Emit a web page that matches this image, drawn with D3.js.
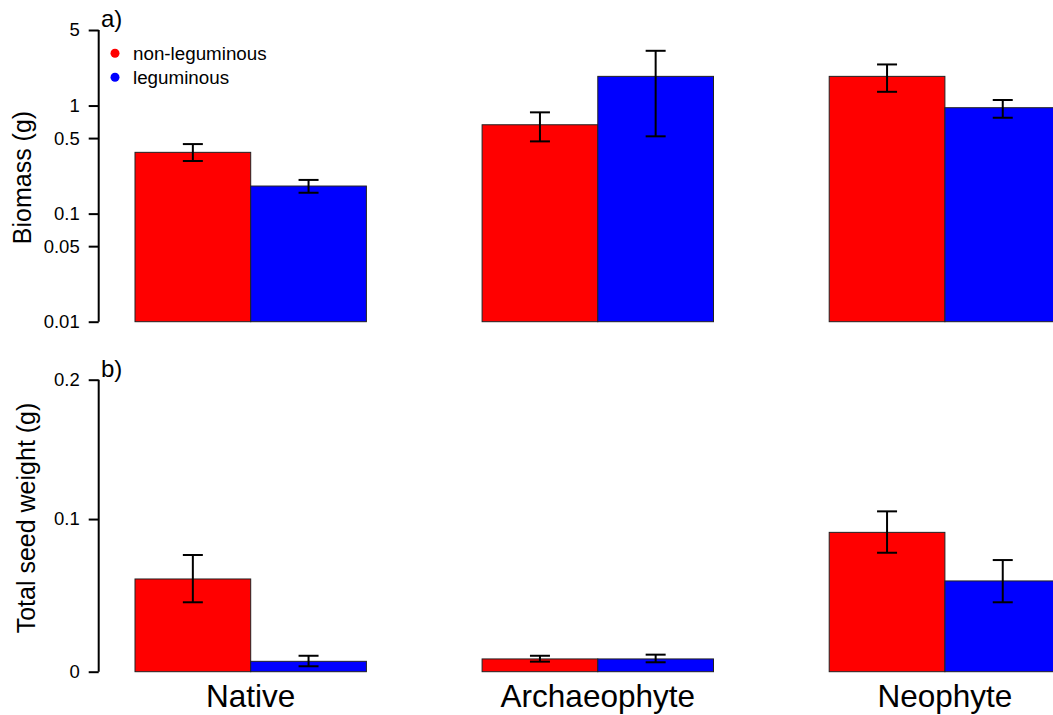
<!DOCTYPE html>
<html>
<head>
<meta charset="utf-8">
<script src="https://cdn.jsdelivr.net/npm/d3@7"></script>
<style>
  html, body { margin: 0; padding: 0; background: #fff; }
  svg { display: block; font-family: "Liberation Sans", Arial, sans-serif; }
</style>
</head>
<body>
<svg id="chart" width="1053" height="715"></svg>
<script>
// Origin groups and the two plant types
const categories = ["Native", "Archaeophyte", "Neophyte"];
const seriesNames = ["non-leguminous", "leguminous"];
const seriesColors = ["#ff0000", "#0000ff"];

// a) Biomass (g): means and error-bar limits
const biomassNonLeg   = [0.369, 0.664, 1.862];
const biomassNonLegLo = [0.307, 0.466, 1.34];
const biomassNonLegHi = [0.440, 0.865, 2.40];
const biomassLeg      = [0.180, 1.862, 0.955];
const biomassLegLo    = [0.156, 0.519, 0.771];
const biomassLegHi    = [0.205, 3.21, 1.125];
const biomassTicks    = [0.01, 0.05, 0.1, 0.5, 1, 5];

// b) Total seed weight (g): means and error-bar limits
const seedNonLeg   = [0.0596, 0.0080, 0.0909];
const seedNonLegLo = [0.0443, 0.0063, 0.0771];
const seedNonLegHi = [0.0756, 0.0100, 0.1053];
const seedLeg      = [0.0065, 0.0080, 0.0583];
const seedLegLo    = [0.0034, 0.0059, 0.0443];
const seedLegHi    = [0.0100, 0.0107, 0.0722];
const seedTicks    = [0, 0.1, 0.2];

const svg = d3.select("#chart");

// bar slots: group i, series j -> left edge at 1 + 3i + j, width 1
const x = d3.scaleLinear().domain([1, 9]).range([135, 1060.6]);

function rows(means, los, his) {
  const out = [];
  means.forEach((m, j) => {
    categories.forEach((c, i) => {
      out.push({ cat: c, i, j, v: m[i], lo: los[j][i], hi: his[j][i] });
    });
  });
  return out;
}

function panel(opts) {
  const { y, base, data, ticks, tickFmt, label, labelY, labelX, tag, tagY } = opts;
  const g = svg.append("g");

  // bars
  g.selectAll("rect.bar").data(data).enter().append("rect")
    .attr("class", "bar")
    .attr("x", d => x(1 + 3 * d.i + d.j))
    .attr("width", x(2) - x(1))
    .attr("y", d => y(d.v))
    .attr("height", d => y(base) - y(d.v))
    .attr("fill", d => seriesColors[d.j])
    .attr("stroke", "#222")
    .attr("stroke-width", 1);

  // error bars
  const cap = 10;
  const eb = g.selectAll("g.err").data(data).enter().append("g").attr("class", "err")
    .attr("stroke", "#000").attr("stroke-width", 2).attr("fill", "none");
  eb.append("line")
    .attr("x1", d => x(1.5 + 3 * d.i + d.j)).attr("x2", d => x(1.5 + 3 * d.i + d.j))
    .attr("y1", d => y(d.lo)).attr("y2", d => y(d.hi));
  eb.append("line")
    .attr("x1", d => x(1.5 + 3 * d.i + d.j) - cap).attr("x2", d => x(1.5 + 3 * d.i + d.j) + cap)
    .attr("y1", d => y(d.lo)).attr("y2", d => y(d.lo));
  eb.append("line")
    .attr("x1", d => x(1.5 + 3 * d.i + d.j) - cap).attr("x2", d => x(1.5 + 3 * d.i + d.j) + cap)
    .attr("y1", d => y(d.hi)).attr("y2", d => y(d.hi));

  // y axis
  const ax = g.append("g").attr("transform", "translate(98.7,0)")
    .call(d3.axisLeft(y).tickValues(ticks).tickFormat(tickFmt).tickSize(10).tickSizeOuter(0).tickPadding(9));
  ax.select(".domain").attr("stroke", "#000").attr("stroke-width", 2)
    .attr("d", `M0,${y(ticks[0])}V${y(ticks[ticks.length - 1])}`);
  ax.selectAll(".tick line").attr("stroke", "#000").attr("stroke-width", 2);
  ax.selectAll(".tick text").attr("fill", "#000").style("font-size", "18.5px")
    .style("font-family", "'Liberation Sans', Arial, sans-serif");

  // axis title
  g.append("text")
    .attr("transform", `translate(${labelX},${labelY}) rotate(-90)`)
    .attr("text-anchor", "middle")
    .style("font-size", "25px")
    .attr("fill", "#000")
    .text(label);

  // panel tag
  g.append("text").attr("x", 101).attr("y", tagY)
    .style("font-size", "24px").attr("fill", "#000").text(tag);
}

// a) biomass on a log axis
const yTop = d3.scaleLog().domain([0.01, 5]).range([321.7, 30]);
panel({
  y: yTop, base: 0.01,
  data: rows([biomassNonLeg, biomassLeg], [biomassNonLegLo, biomassLegLo], [biomassNonLegHi, biomassLegHi]),
  ticks: biomassTicks, tickFmt: d => String(d),
  label: "Biomass (g)", labelX: 31, labelY: 177.5,
  tag: "a)", tagY: 27
});

// b) seed weight on a log(1 + x) axis
const yBot = d3.scaleSymlog().constant(1).domain([0, 0.2]).range([671.7, 379.7]);
panel({
  y: yBot, base: 0,
  data: rows([seedNonLeg, seedLeg], [seedNonLegLo, seedLegLo], [seedNonLegHi, seedLegHi]),
  ticks: seedTicks, tickFmt: d => (d === 0 ? "0" : String(d)),
  label: "Total seed weight (g)", labelX: 35, labelY: 518,
  tag: "b)", tagY: 377
});

// legend
const lg = svg.append("g");
seriesNames.forEach((n, j) => {
  const yy = 53.3 + j * 24;
  lg.append("circle").attr("cx", 115).attr("cy", yy).attr("r", 4.5).attr("fill", seriesColors[j]);
  lg.append("text").attr("x", 133).attr("y", yy + 7).style("font-size", "18.8px").attr("fill", "#000").text(n);
});

// group labels
svg.append("g").selectAll("text").data(categories).enter().append("text")
  .attr("x", (d, i) => x(2 + 3 * i))
  .attr("y", 707)
  .attr("text-anchor", "middle")
  .style("font-size", "31.5px")
  .attr("fill", "#000")
  .text(d => d);
</script>
</body>
</html>
